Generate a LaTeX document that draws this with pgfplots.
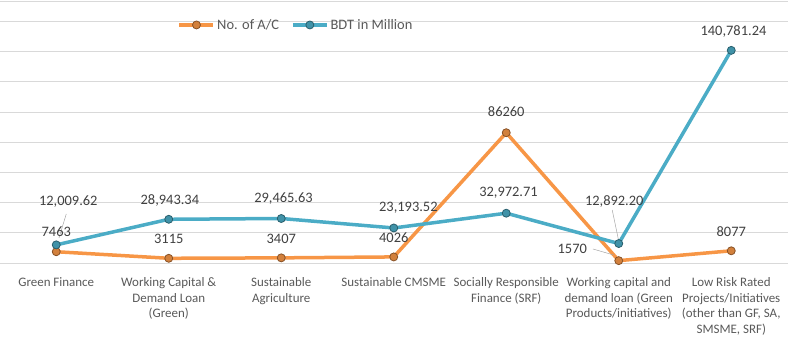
\documentclass[border=0pt]{standalone}
\usepackage{pgfplots}
\pgfplotsset{compat=1.18}
\usepackage{fontspec}
\setmainfont{Carlito}
\definecolor{cOr}{HTML}{F79646}
\definecolor{cBl}{HTML}{4BACC6}
\definecolor{cGrid}{HTML}{D9D9D9}
\definecolor{cLab}{HTML}{595959}
\definecolor{cDat}{HTML}{404040}
\begin{document}
\begin{tikzpicture}
\path[use as bounding box] (0,0) rectangle (793bp,-352bp);
\begin{axis}[
  at={(0bp,-1.7bp)}, anchor=north west,
  scale only axis, width=787.5bp, height=261.3bp,
  xmin=-0.5, xmax=6.5, ymin=0, ymax=173000,
  axis line style={draw=none},
  ytick=\empty,
  major tick length=0pt,
  xtick={0,1,2,3,4,5,6},
  xticklabels={Green Finance,
    {Working Capital \&\\Demand Loan\\(Green)},
    {Sustainable\\Agriculture},
    Sustainable CMSME,
    {Socially Responsible\\Finance (SRF)},
    {Working capital and\\demand loan (Green\\Products/initiatives)},
    {Low Risk Rated\\Projects/Initiatives\\(other than GF, SA,\\SMSME, SRF)}},
  xticklabel style={align=center, text=cLab, font=\fontsize{13}{15.7}\selectfont, yshift=-11bp},
  legend columns=2,
  legend style={draw=none, fill=none, at={(0.376,0.911)}, anchor=center,
    font=\fontsize{14.5}{17}\selectfont, text=cLab,
    /tikz/every even column/.append style={column sep=10bp}},
  legend image code/.code={
    \draw[#1, mark=none] (0bp,0bp) -- (34bp,0bp);
    \draw[#1, only marks] plot coordinates {(17bp,0bp)};
  },
  clip=false,
]
\pgfplotsinvokeforeach{0,20000,40000,60000,80000,100000,120000,140000,160000,173000}{
  \draw[cGrid, line width=0.8bp] (axis cs:-0.5,#1) -- (axis cs:6.5,#1);
}
\addplot[cOr, line width=3.5bp, mark=*, mark size=4bp, mark options={fill=cOr!85!black, draw=cOr!55!black, line width=0.8bp}]
  coordinates {(0,7463) (1,3115) (2,3407) (3,4026) (4,86260) (5,1570) (6,8077)};
\addlegendentry{No. of A/C}
\addplot[cBl, line width=3.5bp, mark=*, mark size=4bp, mark options={fill=cBl!85!black, draw=cBl!55!black, line width=0.8bp}]
  coordinates {(0,12009.62) (1,28943.34) (2,29465.63) (3,23193.52) (4,32972.71) (5,12892.20) (6,140781.24)};
\addlegendentry{BDT in Million}

\draw[gray!70, line width=0.5bp] (axis cs:0.089,32450) -- (axis cs:0.024,16560);
\draw[gray!70, line width=0.5bp] (axis cs:4.942,35100) -- (axis cs:4.996,15890);
\draw[gray!70, line width=0.5bp] (axis cs:4.771,9270) -- (axis cs:4.954,5300);

\begin{scope}[every node/.style={text=cDat, font=\fontsize{14.5}{17}\selectfont}]
\node at (axis cs:0,20720) {7463};
\node at (axis cs:0.107,40580) {12,009.62};
\node at (axis cs:1,15890) {3115};
\node at (axis cs:1.01,41710) {28,943.34};
\node at (axis cs:2,15890) {3407};
\node at (axis cs:2.02,42370) {29,465.63};
\node at (axis cs:3,16550) {4026};
\node at (axis cs:3.13,36410) {23,193.52};
\node at (axis cs:4,99970) {86260};
\node at (axis cs:4.02,46350) {32,972.71};
\node at (axis cs:4.96,41050) {12,892.20};
\node at (axis cs:4.587,9270) {1570};
\node at (axis cs:6,20720) {8077};
\node at (axis cs:6.02,153600) {140,781.24};
\end{scope}
\end{axis}
\end{tikzpicture}
\end{document}
